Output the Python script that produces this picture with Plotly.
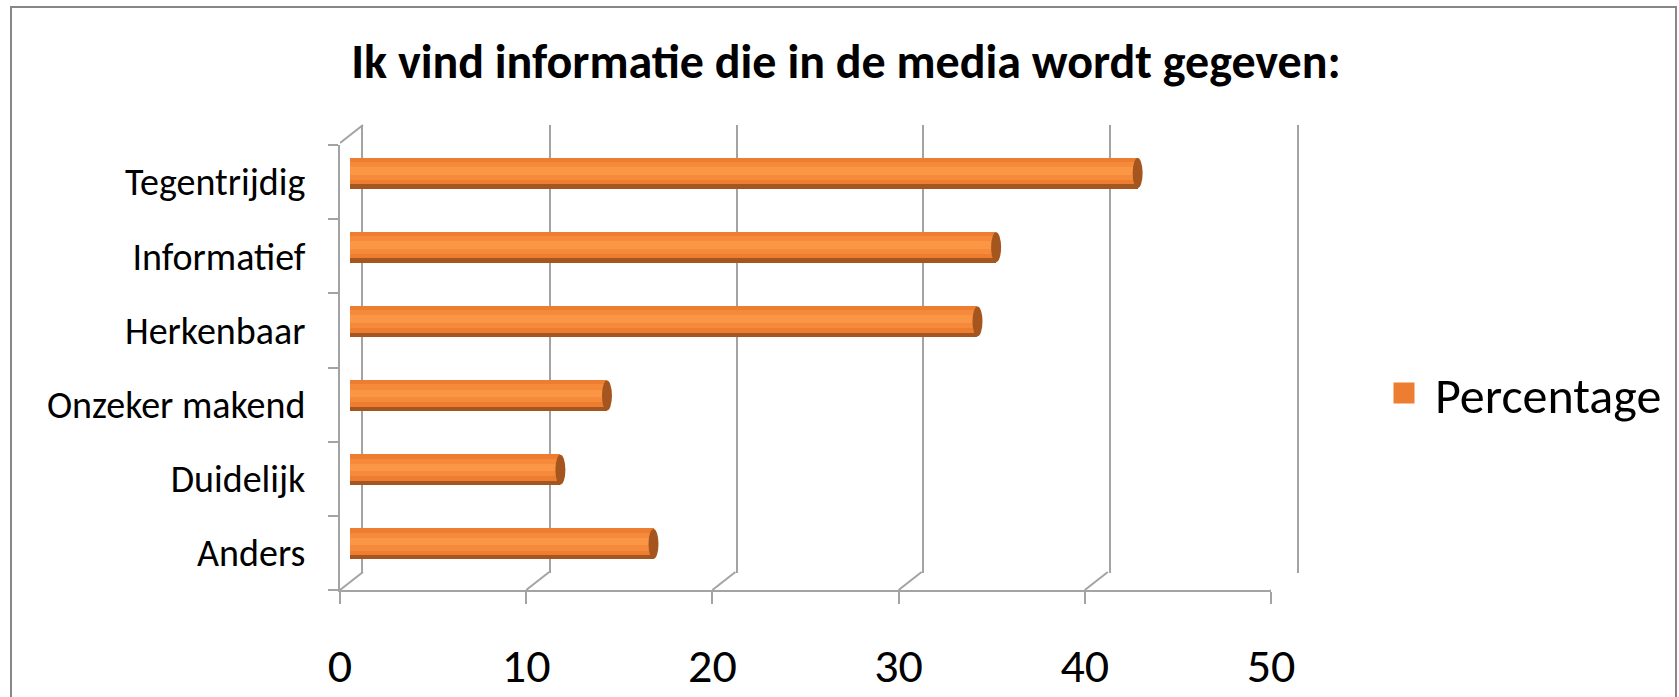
import plotly.graph_objects as go

W, H = 1679, 697

# ---- data (bottom-to-top order as plotted) ----
categories = ["Anders", "Duidelijk", "Onzeker makend", "Herkenbaar", "Informatief", "Tegentrijdig"]
percentages = [16.3, 11.3, 13.8, 33.7, 34.7, 42.3]
x_ticks = [0, 10, 20, 30, 40, 50]
series_name = "Percentage"
title_text = "Ik vind informatie die in de media wordt gegeven:"

FONT = "Carlito, Calibri, Lato, sans-serif"
GRID = "#A3A3A3"
ORANGE = "#ED7D31"


def fx(p):
    return p / W


def fy(p):
    return 1 - p / H


fig = go.Figure()

# invisible traces so the front and back axes exist
for xa, ya in (("x", "y"), ("x2", "y2")):
    fig.add_trace(go.Bar(y=categories, x=percentages, orientation="h", xaxis=xa, yaxis=ya,
                         marker=dict(color="rgba(0,0,0,0)", line=dict(width=0)), opacity=0,
                         showlegend=False, hoverinfo="skip"))

# cylinder bars (layered shading), drawn on the mid-depth axes
fig.add_trace(go.Bar(y=categories, x=percentages, orientation="h", xaxis="x3", yaxis="y3",
                     width=0.42, marker=dict(color="#A5561E", line=dict(width=0)),
                     legendgroup="s", showlegend=False, hoverinfo="skip"))
fig.add_trace(go.Bar(y=categories, x=percentages, orientation="h", xaxis="x3", yaxis="y3",
                     width=0.36, offset=-0.15, marker=dict(color=ORANGE, line=dict(width=0)),
                     name=series_name, legendgroup="s", showlegend=False))
fig.add_trace(go.Bar(y=categories, x=percentages, orientation="h", xaxis="x3", yaxis="y3",
                     width=0.24, offset=-0.09, marker=dict(color="#F58A3A", line=dict(width=0)),
                     legendgroup="s", showlegend=False, hoverinfo="skip"))
fig.add_trace(go.Bar(y=categories, x=percentages, orientation="h", xaxis="x3", yaxis="y3",
                     width=0.10, offset=-0.02, marker=dict(color="#FB9646", line=dict(width=0)),
                     legendgroup="s", showlegend=False, hoverinfo="skip"))
# legend entry for the series (larger square swatch)
fig.add_trace(go.Scatter(x=[None], y=[None], mode="markers", xaxis="x3", yaxis="y3",
                         marker=dict(symbol="square", size=16, color=ORANGE,
                                     line=dict(color=ORANGE, width=5)),
                         name=series_name, legendgroup="s", showlegend=True, hoverinfo="skip"))

shapes = []
# end caps of the cylinders
for c, v in zip(categories, percentages):
    shapes.append(dict(type="circle", xref="x3", yref="y3", xsizemode="pixel", ysizemode="pixel",
                       xanchor=v, yanchor=c, x0=-5, x1=5, y0=-15, y1=15,
                       fillcolor="#A5561E", line=dict(width=0), layer="above"))

# floor diagonals (front tick -> back gridline)
for t in x_ticks:
    shapes.append(dict(type="line", xref="x", yref="y domain", xsizemode="pixel", ysizemode="pixel",
                       xanchor=t, yanchor=0, x0=0, y0=0, x1=23, y1=18,
                       line=dict(color=GRID, width=2), layer="below"))
# left wall top diagonal
shapes.append(dict(type="line", xref="x", yref="y domain", xsizemode="pixel", ysizemode="pixel",
                   xanchor=0, yanchor=1, x0=0, y0=2, x1=23, y1=20,
                   line=dict(color=GRID, width=2), layer="below"))
# outer chart border
shapes.append(dict(type="rect", xref="paper", yref="paper", x0=fx(11), x1=fx(1676), y0=-0.05, y1=fy(7),
                   line=dict(color="#878787", width=2), fillcolor="rgba(0,0,0,0)", layer="below"))

fig.update_layout(
    width=W, height=H,
    margin=dict(l=0, r=0, t=0, b=0),
    paper_bgcolor="white", plot_bgcolor="rgba(0,0,0,0)",
    barmode="overlay",
    bargap=0,
    font=dict(family=FONT, color="black"),
    title=dict(text="<b>" + title_text + "</b>", x=fx(846), y=fy(61), xanchor="center", yanchor="middle",
               xref="paper", yref="paper", font=dict(size=48, family=FONT, color="black")),
    showlegend=True,
    legend=dict(x=fx(1373), y=fy(393), xanchor="left", yanchor="middle", itemwidth=52,
                font=dict(size=50, family=FONT, color="black"), bgcolor="rgba(0,0,0,0)"),
    # front axes
    xaxis=dict(domain=[fx(340), fx(1271)], range=[0, 50], tickvals=x_ticks, anchor="y",
               showgrid=False, zeroline=False, showline=True, linecolor=GRID, linewidth=2,
               ticks="outside", ticklen=12, tickcolor=GRID, tickwidth=2,
               tickfont=dict(size=48, family=FONT, color="black"), ticklabelstandoff=20,
               automargin=False, fixedrange=True),
    yaxis=dict(domain=[fy(590), fy(145)], type="category", categoryorder="array", categoryarray=categories,
               range=[-0.5, len(categories) - 0.5], anchor="x",
               showgrid=False, zeroline=False, showline=True, linecolor=GRID, linewidth=2,
               ticks="outside", tickson="boundaries", ticklen=10, tickcolor=GRID, tickwidth=2,
               tickfont=dict(size=38, family=FONT, color="black"), ticklabelstandoff=25,
               automargin=False, fixedrange=True),
    # back wall (gridlines + side walls)
    xaxis2=dict(domain=[fx(363), fx(1297)], range=[0, 50], tickvals=x_ticks, anchor="y2",
                showgrid=True, gridcolor=GRID, gridwidth=2, zeroline=False, showline=False,
                showticklabels=False, ticks="", automargin=False, fixedrange=True),
    yaxis2=dict(domain=[fy(573), fy(125)], type="category", categoryorder="array", categoryarray=categories,
                range=[-0.5, len(categories) - 0.5], anchor="x2",
                showgrid=False, zeroline=False, showline=True, mirror=True, linecolor=GRID, linewidth=2,
                showticklabels=False, ticks="", automargin=False, fixedrange=True),
    # mid depth (bars)
    xaxis3=dict(domain=[fx(350), fx(1281)], range=[0, 50], anchor="y3",
                showgrid=False, zeroline=False, showline=False, showticklabels=False, ticks="",
                automargin=False, fixedrange=True),
    yaxis3=dict(domain=[fy(581), fy(136)], type="category", categoryorder="array", categoryarray=categories,
                range=[-0.5, len(categories) - 0.5], anchor="x3",
                showgrid=False, zeroline=False, showline=False, showticklabels=False, ticks="",
                automargin=False, fixedrange=True),
    shapes=shapes,
)

# remove the default 8px page margin so the figure fills the window exactly
fig.write_html("out.html", config={"displayModeBar": False},
               post_script="document.body.style.margin='0';")
